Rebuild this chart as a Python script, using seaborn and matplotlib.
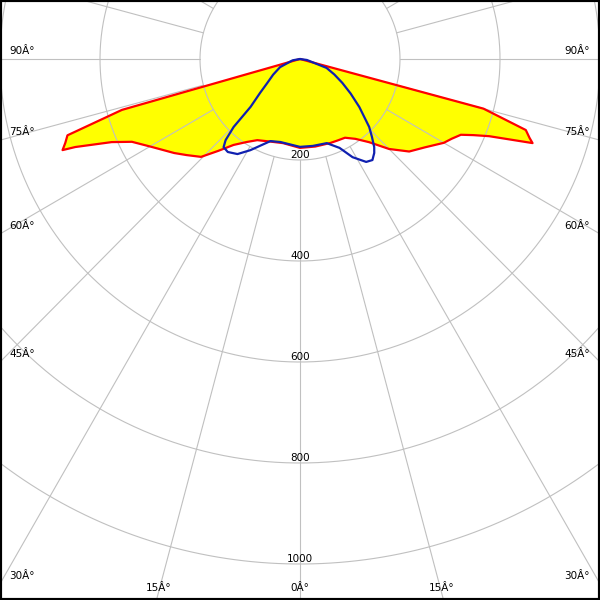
import numpy as np
import pandas as pd
import matplotlib
matplotlib.use("Agg")
import matplotlib.pyplot as plt
import seaborn as sns

# --- photometric data (gamma in degrees from nadir, cd) ---
# C0 half-plane (red outline / yellow fill, right side)
c0_angles = [0, 10, 20, 25, 30, 35, 40, 45, 50, 55, 60, 62.5, 65, 66.5, 68, 70.3, 71.2, 72.7, 75, 77.5, 90]
c0_cd = [176, 176, 177, 178, 180, 193, 215, 252, 285, 305, 332, 342, 355, 378, 408, 494, 485, 473, 380, 0, 0]
# C180 half-plane (left side)
c180_angles = [0, 11.5, 20, 28, 33, 38, 42, 45.6, 50, 53.5, 59.6, 64, 66.4, 68.8, 69.2, 70.5, 72, 74.2, 77.5, 90]
c180_cd = [176, 170, 174, 182, 196, 216, 245, 277, 296, 313, 344, 374, 411, 482, 508, 498, 489, 370, 0, 0]
# C90 half-plane (blue, right side)
c90_angles = [0, 8.5, 17.8, 24.2, 28.4, 33, 35.9, 38.6, 40.4, 43, 45.8, 51.3, 56, 60.8, 66, 71.6, 82, 90]
c90_cd = [174, 174, 175, 193, 221, 243, 247, 238, 229, 211, 193, 152, 122, 97, 75, 56, 14, 0]
# C270 half-plane (blue, left side)
c270_angles = [0, 13.5, 20, 28.8, 33.6, 38.1, 41.2, 42.8, 44.6, 46.2, 50, 54, 60, 68, 80, 90]
c270_cd = [174, 169, 173, 206, 226, 234, 232, 219, 189, 137, 104, 81, 62, 43, 15, 0]

ring_values = [200, 400, 600, 800, 1000]
ray_angles = list(range(0, 360, 15))
side_labels = [90, 75, 60, 45, 30]
bottom_labels = [15, 0]

# pixel layout of the pole and scale (px per cd)
SX, SY = 0.5, 0.505
CX, CY = 300, 59


def half_planes(left_ang, left_cd, right_ang, right_cd):
    la = np.radians(left_ang[::-1])
    lc = np.array(left_cd[::-1], dtype=float)
    ra = np.radians(right_ang)
    rc = np.array(right_cd, dtype=float)
    x = np.concatenate([-lc * np.sin(la), rc * np.sin(ra)])
    y = np.concatenate([-lc * np.cos(la), -rc * np.cos(ra)])
    return pd.DataFrame({"x": x, "y": y})


def px(xp, yp):
    return (xp - CX) / SX, (CY - yp) / SY


red = half_planes(c180_angles, c180_cd, c0_angles, c0_cd)
blue = half_planes(c270_angles, c270_cd, c90_angles, c90_cd)

sns.set_style("white")
fig = plt.figure(figsize=(6, 6), dpi=100)
ax = fig.add_axes([0, 0, 1, 1])

ax.fill(red["x"], red["y"], color="#ffff00", lw=0, zorder=1)

# polar grid
grid_col = "#c0c0c0"
t = np.linspace(0, 2 * np.pi, 721)
for r in ring_values:
    ax.plot(r * np.sin(t), r * np.cos(t), color=grid_col, lw=0.8, zorder=2)
for a in ray_angles:
    g = np.radians(a)
    ax.plot([200 * np.sin(g), 1500 * np.sin(g)], [-200 * np.cos(g), -1500 * np.cos(g)],
            color=grid_col, lw=0.8, zorder=2)

sns.lineplot(data=red, x="x", y="y", sort=False, estimator=None, color="#ff0000", lw=1.6, ax=ax, zorder=3)
sns.lineplot(data=blue, x="x", y="y", sort=False, estimator=None, color="#1020b0", lw=1.6, ax=ax, zorder=4)

txt = dict(fontsize=7.5, color="black", zorder=5)

# ring labels
for r in ring_values:
    ax.text(0, -r, str(r), ha="center", va="bottom", **txt)

# angle labels along the border
for a in side_labels:
    y_ray = CY + (CX - 9) / np.tan(np.radians(a)) if a != 90 else CY
    y_lab = y_ray + 2 + (y_ray - 300) * 0.04
    ax.text(*px(9, y_lab), f"{a}Â°", ha="left", va="center", **txt)
    ax.text(*px(590, y_lab), f"{a}Â°", ha="right", va="center", **txt)
for a in bottom_labels:
    dx = (588 - CY) * np.tan(np.radians(a))
    ax.text(*px(CX - dx, 588), f"{a}Â°", ha="center", va="center", **txt)
    if a:
        ax.text(*px(CX + dx, 588), f"{a}Â°", ha="center", va="center", **txt)

ax.set_xlim(-CX / SX, (600 - CX) / SX)
ax.set_ylim(-(600 - CY) / SY, CY / SY)
ax.set(xlabel="", ylabel="", xticks=[], yticks=[])
for s in ax.spines.values():
    s.set_linewidth(3)
    s.set_color("black")

fig.savefig("out.png", dpi=100)
